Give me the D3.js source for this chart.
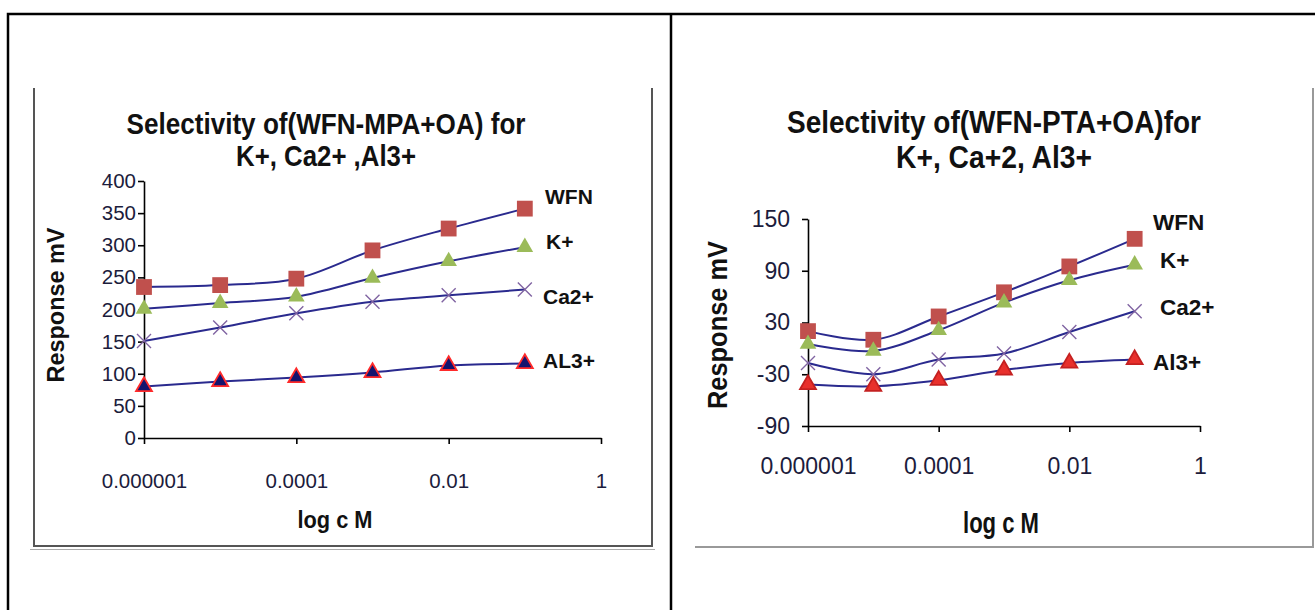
<!DOCTYPE html>
<html>
<head>
<meta charset="utf-8">
<script src="https://cdn.jsdelivr.net/npm/d3@7"></script>
<style>
  body { margin: 0; background: #fff; }
  svg { display: block; font-family: Arial, "Liberation Sans", sans-serif; }
</style>
</head>
<body>
<div id="chart"></div>
<script>
// concentrations (M), one per measured point
var conc = [1e-6, 1e-5, 1e-4, 1e-3, 1e-2, 1e-1];
var xTicks = [1e-6, 1e-4, 1e-2, 1];
var xTickLabels = ["0.000001", "0.0001", "0.01", "1"];

// left panel: WFN-MPA+OA
var mpaWFN = [235, 238, 248, 292, 326, 357];
var mpaK   = [201, 210, 220, 249, 275, 297];
var mpaCa  = [151, 172, 194, 212, 222, 231];
var mpaAl  = [80, 88, 94, 102, 113, 116];
var mpaNames = ["WFN", "K+", "Ca2+", "AL3+"];
var mpaYTicks = [0, 50, 100, 150, 200, 250, 300, 350, 400];

// right panel: WFN-PTA+OA
var ptaWFN = [20, 10, 37, 65, 95, 127];
var ptaK   = [5, -3, 21, 53, 79, 97];
var ptaCa  = [-17, -30, -13, -6, 19, 43];
var ptaAl  = [-42, -44, -37, -25, -17, -13];
var ptaNames = ["WFN", "K+", "Ca2+", "Al3+"];
var ptaYTicks = [-90, -30, 30, 90, 150];

var W = 1315, H = 610;
var svg = d3.select("#chart").append("svg").attr("width", W).attr("height", H);

// table borders round the two charts
svg.append("path")
  .attr("d", "M8,610 V14 H1315 M671,14 V610")
  .style("fill", "none").style("stroke", "#000").style("stroke-width", 2.5);

var SelChart = function(svg, opt) {
  return new SelChart.init(svg, opt);
}

SelChart.prototype = {
  initFrame: function() {
    var o = this.opt;
    this.g.append("path")
      .attr("d", o.frame)
      .style("fill", "none").style("stroke", o.frameColor).style("stroke-width", 2);
    if (o.frame2) {
      this.g.append("path").attr("d", o.frame2)
        .style("fill", "none").style("stroke", "#aaa").style("stroke-width", 1.2);
    }
    return this;
  },
  initAxis: function() {
    var o = this.opt, self = this;
    // plain hyphen for negatives, like the original
    var ya = this.g.append("g").attr("transform", "translate(" + o.x0 + ",0)")
      .call(d3.axisLeft(self.yScale).tickValues(o.yTicks).tickSize(6).tickSizeOuter(0).tickPadding(o.yPad)
        .tickFormat(function(d) { return String(d); }));
    var xa = this.g.append("g").attr("transform", "translate(0," + o.y0 + ")")
      .call(d3.axisBottom(self.xScale).tickValues(xTicks).tickSize(6).tickSizeOuter(0).tickPadding(o.xPad)
        .tickFormat(function(d, i) { return xTickLabels[i]; }));
    [ya, xa].forEach(function(a) {
      a.select(".domain").style("stroke", "#000").style("stroke-width", 1.6);
      a.selectAll(".tick line").style("stroke", "#000").style("stroke-width", 1.6);
      a.selectAll("text").style("fill", "#1c1c3c").style("font-family", "Arial, 'Liberation Sans', sans-serif");
    });
    ya.selectAll("text").style("font-size", o.yFont + "px");
    xa.selectAll("text").style("font-size", o.xFont + "px");
    return this;
  },
  initPath: function() {
    var self = this, o = this.opt;
    var line = d3.line()
      .x(function(d, i) { return self.xScale(conc[i]); })
      .y(function(d) { return self.yScale(d); })
      .curve(d3.curveCatmullRom.alpha(0.5));
    this.g.append("g").selectAll("path").data(o.series).enter()
      .append("path")
      .attr("d", function(s) { return line(s.values); })
      .style("fill", "none").style("stroke", "#2a2a8e").style("stroke-width", 2);

    var mk = this.g.append("g");
    o.series.forEach(function(s) {
      s.values.forEach(function(v, i) {
        var x = self.xScale(conc[i]), y = self.yScale(v);
        if (s.shape === "x") {
          var r = 7;
          mk.append("path")
            .attr("d", "M" + (x - r) + "," + (y - r) + "L" + (x + r) + "," + (y + r) + "M" + (x - r) + "," + (y + r) + "L" + (x + r) + "," + (y - r))
            .style("stroke", s.color).style("stroke-width", 1.4).style("fill", "none");
        } else {
          mk.append("path")
            .attr("transform", "translate(" + x + "," + y + ")")
            .attr("d", d3.symbol().type(s.shape === "square" ? d3.symbolSquare : d3.symbolTriangle).size(s.size)())
            .style("fill", s.color)
            .style("stroke", s.stroke || "none").style("stroke-width", s.stroke ? 1.8 : 0);
        }
      });
    });
    return this;
  },
  // bold text, a bit taller than wide as in the scanned figure
  tallText: function(txt, x, y, size, w, rot) {
    return this.g.append("text")
      .attr("transform", "translate(" + x + "," + y + ")" + (rot ? " rotate(-90)" : "") + " scale(1,1.1)")
      .attr("text-anchor", "middle")
      .attr("textLength", w).attr("lengthAdjust", "spacingAndGlyphs")
      .style("font-size", size + "px").style("font-weight", "bold").style("fill", "#111")
      .text(txt);
  },
  initText: function() {
    var o = this.opt, g = this.g, self = this;
    o.title.forEach(function(t) {
      self.tallText(t.text, o.titleX, t.y, o.titleFont, t.w);
    });
    this.tallText("Response mV", o.yLab.x, o.yLab.y, o.yLab.size, o.yLab.w, true);
    this.tallText("log c M", o.xLab.x, o.xLab.y, o.xLab.size, o.xLab.w);
    o.series.forEach(function(s, i) {
      g.append("text").attr("x", o.endLab[i][0]).attr("y", o.endLab[i][1])
        .attr("dy", "0.35em")
        .style("font-size", o.endFont + "px").style("font-weight", "bold").style("fill", "#111")
        .text(s.name);
    });
    return this;
  }
};

SelChart.init = function(svg, opt) {
  this.opt = opt;
  this.g = svg.append("g");
  this.xScale = d3.scaleLog().domain([1e-6, 1]).range([opt.x0, opt.x1]);
  this.yScale = d3.scaleLinear().domain(d3.extent(opt.yTicks)).range([opt.y0, opt.y1]);
  this.initFrame().initAxis().initPath().initText();
}
SelChart.init.prototype = SelChart.prototype;

function makeSeries(names, vals, alStyle) {
  return [
    {name: names[0], values: vals[0], shape: "square", color: "#c0504d", size: 250},
    {name: names[1], values: vals[1], shape: "tri", color: "#9bbb59", size: 120},
    {name: names[2], values: vals[2], shape: "x", color: "#8064a2"},
    {name: names[3], values: vals[3], shape: "tri", color: alStyle.fill, stroke: alStyle.stroke, size: 110}
  ];
}

SelChart(svg, {
  x0: 144, x1: 601, y0: 438, y1: 181,
  yTicks: mpaYTicks, yPad: 2, xPad: 29, yFont: 20.5, xFont: 20.5,
  frame: "M34,88 V546 H652 V88", frameColor: "#555",
  frame2: "M30,549.5 H655",
  series: makeSeries(mpaNames, [mpaWFN, mpaK, mpaCa, mpaAl], {fill: "#14146e", stroke: "#ff2a2a"}),
  titleX: 326, titleFont: 26,
  title: [{text: "Selectivity of(WFN-MPA+OA)  for", y: 134, w: 399}, {text: "K+, Ca2+ ,Al3+", y: 166, w: 180}],
  yLab: {x: 64, y: 305, w: 155, size: 22},
  xLab: {x: 335, y: 528, w: 75, size: 22},
  endFont: 21,
  endLab: [[545, 197], [546, 242], [543, 297], [543, 361]]
});

SelChart(svg, {
  x0: 808, x1: 1200, y0: 426, y1: 219,
  yTicks: ptaYTicks, yPad: 12, xPad: 26, yFont: 23, xFont: 23,
  frame: "M695,547 H1313 V88", frameColor: "#999",
  series: makeSeries(ptaNames, [ptaWFN, ptaK, ptaCa, ptaAl], {fill: "#e8302c", stroke: "#c42020"}),
  titleX: 994, titleFont: 28,
  title: [{text: "Selectivity of(WFN-PTA+OA)for", y: 133, w: 414}, {text: "K+, Ca+2, Al3+", y: 168, w: 196}],
  yLab: {x: 727, y: 325, w: 168, size: 25},
  xLab: {x: 1001, y: 533, w: 76, size: 26},
  endFont: 22.5,
  endLab: [[1153, 222], [1160, 260], [1160, 307], [1153, 362]]
});
</script>
</body>
</html>
